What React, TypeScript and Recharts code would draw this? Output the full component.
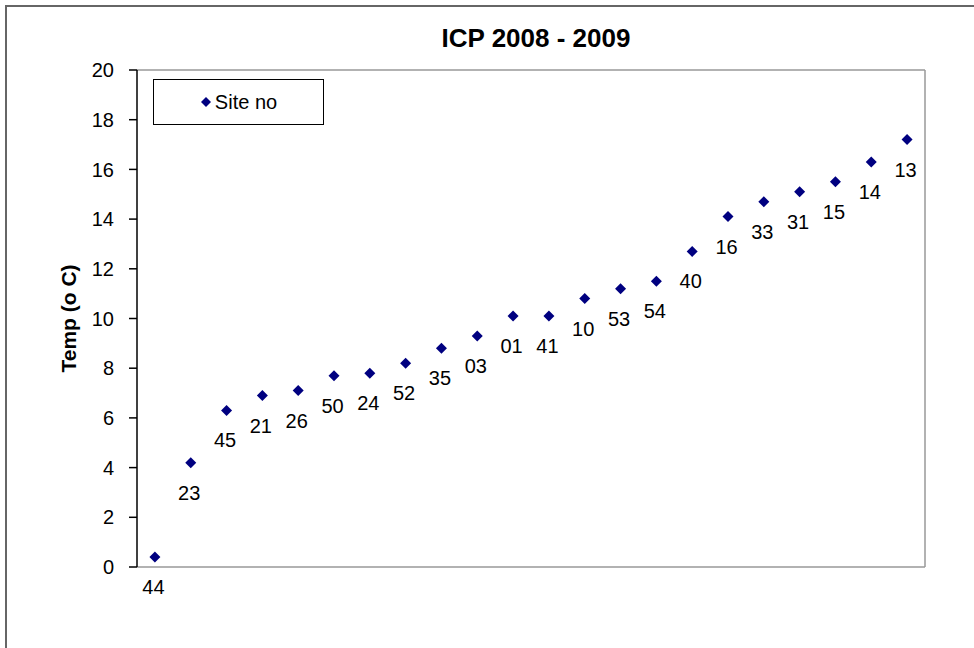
import React from 'react';
import {
  ScatterChart,
  Scatter,
  XAxis,
  YAxis,
  ReferenceLine,
  Legend
} from 'recharts';

const siteNos = ['44', '23', '45', '21', '26', '50', '24', '52', '35', '03', '01', '41', '10', '53', '54', '40', '16', '33', '31', '15', '14', '13'];
const temps = [0.4, 4.2, 6.3, 6.9, 7.1, 7.7, 7.8, 8.2, 8.8, 9.3, 10.1, 10.1, 10.8, 11.2, 11.5, 12.7, 14.1, 14.7, 15.1, 15.5, 16.3, 17.2];
const yTicks = [0, 2, 4, 6, 8, 10, 12, 14, 16, 18, 20];

const data = siteNos.map((site, i) => ({ x: i + 1, y: temps[i], site }));

const FONT = '"Liberation Sans", Arial, sans-serif';
const NAVY = '#000080';

const Diamond = (props: any) => {
  const { cx, cy, payload } = props;
  const r = 5.5;
  return (
    <g>
      <path d={`M${cx},${cy - r}L${cx + r},${cy}L${cx},${cy + r}L${cx - r},${cy}Z`} fill={NAVY} />
      <text x={cx - 1.5} y={cy + 37} textAnchor="middle" fontSize={20} fontFamily={FONT} fill="#000">
        {payload.site}
      </text>
    </g>
  );
};

const YLabel = (props: any) => {
  const { viewBox } = props;
  const x = viewBox.x - 9;
  const y = viewBox.y + viewBox.height / 2;
  return (
    <text
      x={x}
      y={y}
      transform={`rotate(-90, ${x}, ${y})`}
      textAnchor="middle"
      dominantBaseline="central"
      fontSize={21}
      fontWeight="bold"
      fontFamily={FONT}
      fill="#000"
    >
      Temp (o C)
    </text>
  );
};

const LegendBox = () => (
  <div
    style={{
      width: 171,
      height: 46,
      boxSizing: 'border-box',
      border: '1.5px solid #000',
      background: '#fff',
      display: 'flex',
      alignItems: 'center',
      justifyContent: 'center',
      fontFamily: FONT,
      fontSize: 20,
      color: '#000'
    }}
  >
    <svg width={12} height={12} style={{ marginRight: 3 }}>
      <path d="M6,1L11,6L6,11L1,6Z" fill={NAVY} />
    </svg>
    <span>Site no</span>
  </div>
);

export default function App() {
  return (
    <div style={{ position: 'absolute', left: 0, top: 0, width: 974, height: 648, background: '#fff', overflow: 'hidden' }}>
      <div
        style={{
          position: 'absolute',
          left: 5,
          top: 5,
          width: 980,
          height: 660,
          borderLeft: '2px solid #666',
          borderTop: '2px solid #666'
        }}
      />
      <div
        style={{
          position: 'absolute',
          left: 386,
          top: 25,
          width: 300,
          textAlign: 'center',
          fontFamily: FONT,
          fontWeight: 'bold',
          fontSize: 26,
          lineHeight: '26px',
          color: '#000'
        }}
      >
        ICP 2008 - 2009
      </div>
      <div style={{ position: 'absolute', left: 0, top: 0 }}>
        <ScatterChart width={974} height={648} margin={{ top: 70, right: 49, bottom: 81, left: 77 }}>
          <XAxis type="number" dataKey="x" domain={[0.5, 22.5]} hide />
          <YAxis
            type="number"
            dataKey="y"
            domain={[0, 20]}
            ticks={yTicks}
            width={60}
            axisLine={{ stroke: '#000', strokeWidth: 1.5 }}
            tickLine={{ stroke: '#000', strokeWidth: 1.5 }}
            tickSize={8}
            tickMargin={15}
            tick={{ fontSize: 20, fontFamily: FONT, fill: '#000' }}
            label={{ content: YLabel }}
          />
          <ReferenceLine y={20} stroke="#999" strokeWidth={1.5} />
          <ReferenceLine y={0} stroke="#999" strokeWidth={1.5} />
          <ReferenceLine x={22.5} stroke="#999" strokeWidth={1.5} />
          <Legend
            layout="horizontal"
            verticalAlign="middle"
            align="center"
            content={LegendBox}
            wrapperStyle={{ left: 153, top: 79, width: 171, height: 46 }}
          />
          <Scatter name="Site no" data={data} shape={Diamond} isAnimationActive={false} />
        </ScatterChart>
      </div>
    </div>
  );
}
